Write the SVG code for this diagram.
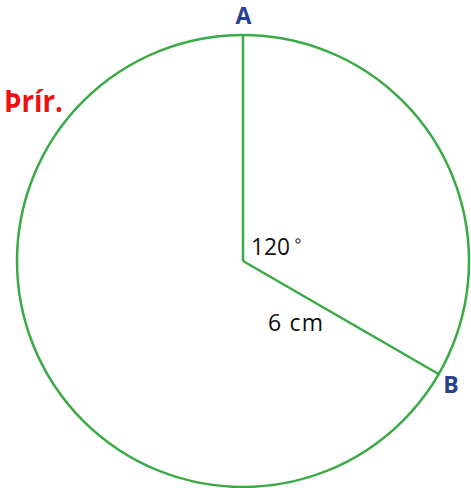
<svg xmlns="http://www.w3.org/2000/svg" width="471" height="488" viewBox="0 0 471 488">
<style>
.g{fill:none;stroke:#3aaa45;stroke-width:2.5}
.pt{font-family:"Open Sans","Liberation Sans",sans-serif;font-weight:bold;font-size:23px;fill:#283f8f}
.t{font-family:"Open Sans","Liberation Sans",sans-serif;font-size:23px;fill:#111}
</style>
<rect width="471" height="488" fill="#fff"/>
<g id="circle"><circle class="g" cx="243" cy="261" r="226"/></g>
<g id="connectors">
<line class="g" x1="243" y1="35" x2="243" y2="261"/>
<line class="g" x1="243" y1="261" x2="438.5" y2="374"/>
</g>
<g id="A"><text class="pt" x="243.5" y="24" text-anchor="middle">A</text></g>
<g id="B"><text class="pt" x="451" y="393" text-anchor="middle">B</text></g>
<g id="angle"><text class="t" x="251" y="255" textLength="39" lengthAdjust="spacingAndGlyphs">120</text><circle cx="298" cy="241" r="2.2" fill="none" stroke="#111" stroke-width="1"/></g>
<g id="length"><text class="t" x="268" y="331" textLength="55">6 cm</text></g>
<g id="title"><text x="4" y="112" font-family="Open Sans, Liberation Sans, sans-serif" font-weight="bold" font-size="30" fill="#ee1111" textLength="59" lengthAdjust="spacingAndGlyphs">Þrír.</text></g>
</svg>
